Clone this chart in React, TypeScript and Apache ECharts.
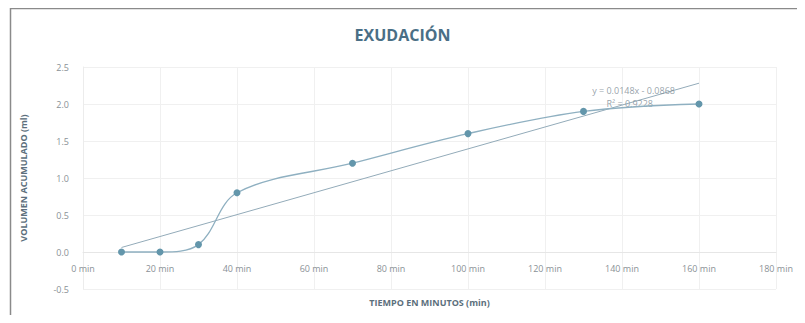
import React, { useEffect, useRef } from "react";
import * as echarts from "echarts";

const timeMin = [10, 20, 30, 40, 70, 100, 130, 160];
const volumeMl = [0, 0, 0.1, 0.8, 1.2, 1.6, 1.9, 2.0];
const trendSlope = 0.0148;
const trendIntercept = -0.0868;
const trendLabel = "y = 0.0148x - 0.0868";
const r2Label = "R² = 0.9228";
const titleText = "EXUDACIÓN";
const xTitle = "TIEMPO EN MINUTOS (min)";
const yTitle = "VOLUMEN ACUMULADO (ml)";

export default function App() {
  const ref = useRef<HTMLDivElement>(null);
  useEffect(() => {
    if (!ref.current) return;
    const chart = echarts.init(ref.current, null, { renderer: "svg" });
    const data = timeMin.map((t, i) => [t, volumeMl[i]]);
    const x0 = timeMin[0];
    const x1 = timeMin[timeMin.length - 1];
    const trend = [
      [x0, trendSlope * x0 + trendIntercept],
      [x1, trendSlope * x1 + trendIntercept],
    ];
    const font = "'Open Sans', 'Noto Sans', sans-serif";
    chart.setOption({
      animation: false,
      backgroundColor: "#ffffff",
      textStyle: { fontFamily: font },
      title: {
        text: titleText,
        left: "center",
        top: 22,
        textStyle: { fontSize: 16, fontWeight: "bold", color: "#4a6f86", fontFamily: font },
      },
      grid: { left: 83, right: 29, top: 67, bottom: 34 },
      xAxis: {
        type: "value",
        min: 0,
        max: 180,
        interval: 20,
        position: "bottom",
        offset: -37,
        name: xTitle,
        nameLocation: "middle",
        nameGap: 46,
        nameTextStyle: { fontSize: 9, color: "#5c6f7c", fontWeight: "bold" },
        axisLine: { onZero: false, lineStyle: { color: "#e6e6e6" } },
        axisTick: { show: false },
        axisLabel: {
          formatter: (v: number) => `${v} min`,
          fontSize: 9,
          color: "#8a9196",
          margin: 12,
        },
        splitLine: { show: true, lineStyle: { color: "#f0f0f0" } },
      },
      yAxis: {
        type: "value",
        min: -0.5,
        max: 2.5,
        interval: 0.5,
        name: yTitle,
        nameLocation: "middle",
        nameGap: 55,
        nameTextStyle: { fontSize: 9, color: "#5c6f7c", fontWeight: "bold" },
        axisLine: { show: true, lineStyle: { color: "#ececec" } },
        axisTick: { show: false },
        axisLabel: {
          formatter: (v: number) => v.toFixed(1),
          fontSize: 9,
          color: "#8a9196",
          margin: 14,
        },
        splitLine: { show: true, lineStyle: { color: "#f0f0f0" } },
      },
      graphic: [
        {
          type: "rect",
          left: 8,
          top: 6,
          shape: { width: 810, height: 340 },
          style: { fill: "none", stroke: "#8a8a8a", lineWidth: 1.5 },
          silent: true,
        },
      ],
      series: [
        {
          type: "line",
          data: trend,
          symbol: "none",
          lineStyle: { color: "#93abb9", width: 1 },
          z: 2,
        },
        {
          type: "line",
          data,
          smooth: 0.35,
          symbol: "circle",
          symbolSize: 7,
          lineStyle: { color: "#8fb0c1", width: 1.3 },
          itemStyle: { color: "#6396ab" },
          z: 3,
        },
        {
          type: "scatter",
          data: [[143, 2.18]],
          symbolSize: 0,
          label: {
            show: true,
            position: "inside",
            formatter: trendLabel,
            fontSize: 9,
            color: "#7c8a93",
          },
          silent: true,
        },
        {
          type: "scatter",
          data: [[142, 2.01]],
          symbolSize: 0,
          label: {
            show: true,
            position: "inside",
            formatter: r2Label,
            fontSize: 9,
            color: "#7c8a93",
          },
          silent: true,
        },
      ],
    });
    return () => chart.dispose();
  }, []);
  return <div ref={ref} style={{ width: 805, height: 323, margin: -8 }} />;
}
